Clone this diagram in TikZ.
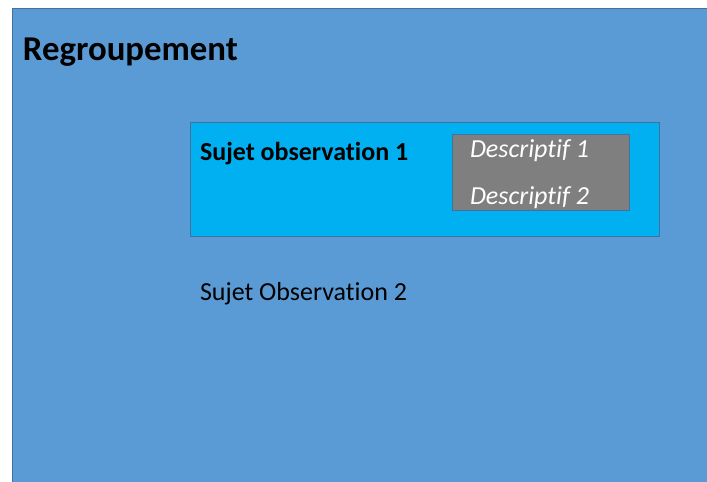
\documentclass[tikz,border=0pt]{standalone}
\usepackage{fontspec}
\setmainfont{Carlito}[Ligatures={NoCommon,NoRequired,NoContextual}]
\definecolor{groupblue}{HTML}{5B9BD5}
\definecolor{edgeblue}{HTML}{41719C}
\definecolor{subjcyan}{HTML}{00B0F0}
\definecolor{descgrey}{HTML}{7F7F7F}
\tikzset{
  panel/.style={draw=edgeblue, line width=0.8pt, inner sep=0pt, outer sep=0pt},
  label/.style={anchor=base west, inner sep=0pt, outer sep=0pt},
}
\begin{document}
\begin{tikzpicture}[x=1pt, y=-1pt]
  \useasboundingbox (0,0) rectangle (707,482);
  % outer group panel (runs past the page edge on the right and bottom)
  \path[panel, fill=groupblue] (12,8) rectangle (712,490);
  \node[label, font=\bfseries\fontsize{34.8}{40}\selectfont] (title) at (23,60) {Regroupement};
  % first observation subject
  \node[panel, fill=subjcyan, minimum width=469pt, minimum height=114pt, anchor=north west] (subj1) at (190,122) {};
  \node[label, font=\bfseries\fontsize{26}{30}\selectfont] (subj1txt) at (200,160) {Sujet observation 1};
  % descriptors
  \node[panel, fill=descgrey, minimum width=177pt, minimum height=76pt, anchor=north west] (desc) at (452,134) {};
  \node[label, text=white, font=\itshape\fontsize{26}{30}\selectfont] (d1) at (470,157) {Descriptif 1};
  \node[label, text=white, font=\itshape\fontsize{26}{30}\selectfont] (d2) at (470,204) {Descriptif 2};
  % second observation subject
  \node[label, font=\fontsize{26}{30}\selectfont] (subj2) at (200,300) {Sujet Observation 2};
\end{tikzpicture}
\end{document}
